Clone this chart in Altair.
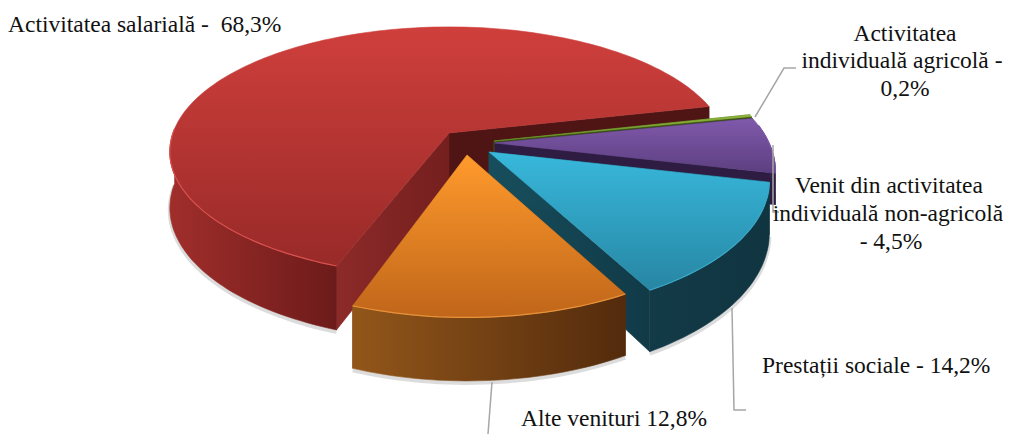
import math
import altair as alt
import pandas as pd

# Slice spans as drawn in the picture (degrees), clockwise from the teal slice
names = ["Prestatii", "Alte", "Salariala", "Agricola", "NonAgricola"]
starts = [13.0, 62.0, 110.5, -12.4, -11.5]
spans = [48.5, 47.5, 236.5, 0.9, 24.5]

apex = {"Salariala": (449, 133), "Alte": (467, 155), "Prestatii": (489, 152),
        "NonAgricola": (495, 143), "Agricola": (494, 141)}

top_colors = {"Salariala": ("#cf3f3c", "#982a28"), "Alte": ("#ff9a2c", "#c0661a"),
              "Prestatii": ("#38b8dc", "#2786a3"), "NonAgricola": ("#8059ab", "#5c3f80"),
              "Agricola": ("#8fb83c", "#6a8f28")}
wall_colors = {"Salariala": ("#a02e2b", "#6c1b1a"), "Alte": ("#92561a", "#532b0c"),
               "Prestatii": ("#133a47", "#103541"), "NonAgricola": ("#4a3268", "#2e1c42"),
               "Agricola": ("#55701e", "#3c5014")}
cut_colors = {"Salariala": ("#8c2a29", "#741f1e"), "Alte": ("#7a4513", "#5c310d"),
              "Prestatii": ("#174d5c", "#113a47"), "NonAgricola": ("#2e1c42", "#2e1c42"),
              "Agricola": ("#3c5014", "#3c5014")}
rim_colors = {"Salariala": "#d8514d", "Alte": "#e8923a", "Prestatii": "#3aa8c8",
              "NonAgricola": "#7a55a0", "Agricola": "#8fb83c"}
rear_cut = "#4f1514"

# projection: width, depth, perspective, wall height
params = {n: (274, 128, 0.212, 50) for n in names}
params["Salariala"] = (276, 122, 0.15, 55)
params["NonAgricola"] = (274, 128, 0.212, 30)


def proj(name, deg, z=0.0, r=1.0):
    A, B, K, D = params[name]
    ax, ay = apex[name]
    t = math.radians(deg)
    u, v = r * math.cos(t), r * math.sin(t)
    p = 1 / (1 - K * v)
    return ax + A * u * p, ay + B * v * p + D * z * p


def arc(name, a0, a1, z=0.0):
    n = max(2, int(abs(a1 - a0) / 1.5) + 2)
    return [proj(name, a0 + (a1 - a0) * i / (n - 1), z) for i in range(n)]


x_scale = alt.Scale(domain=[8, 1003], range=[0, 995], nice=False, zero=False)
y_scale = alt.Scale(domain=[434, 8], nice=False, zero=False)
X = alt.X("x:Q", scale=x_scale, axis=None)
Y = alt.Y("y:Q", scale=y_scale, axis=None)


def grad(c0, c1, vertical=True):
    return alt.Gradient(
        gradient="linear",
        stops=[alt.GradientStop(color=c0, offset=0), alt.GradientStop(color=c1, offset=1)],
        x1=0, y1=0, x2=0 if vertical else 1, y2=1 if vertical else 0)


def frame(points):
    return pd.DataFrame([{"x": round(p[0], 1), "y": round(p[1], 1), "i": i}
                         for i, p in enumerate(points)])


def face(points, fill, stroke=None, sw=0.6):
    return alt.Chart(frame(points + [points[0]])).mark_line(
        fill=fill, stroke=stroke or fill, strokeWidth=sw, strokeJoin="round"
    ).encode(x=X, y=Y, order=alt.Order("i:Q"))


def stroke_line(points, color, width, opacity=1.0):
    return alt.Chart(frame(points)).mark_line(
        color=color, strokeWidth=width, opacity=opacity
    ).encode(x=X, y=Y, order=alt.Order("i:Q"))


def slice_layers(name, a0, a1):
    ax, ay = apex[name]
    layers = []
    lo, hi = max(a0, -8), min(a1, 182)
    if name in ("Salariala", "Alte", "Prestatii"):
        shadow = [(x, y + 2) for x, y in arc(name, lo, hi, 1)]
        layers.append(stroke_line(shadow, "#8c8c8c", 4, 0.3))
    for ang in (a1, a0):
        pts = [(ax, ay), proj(name, ang), proj(name, ang, 1), proj(name, ang, 1, 0)]
        if name == "Salariala" and ang == a1:
            layers.append(face(pts, rear_cut))
        else:
            c = cut_colors[name]
            layers.append(face(pts, grad(c[0], c[1], False)))
    if hi > lo:
        c = wall_colors[name]
        layers.append(face(arc(name, lo, hi) + arc(name, hi, lo, 1), grad(c[0], c[1], False)))
    c = top_colors[name]
    layers.append(face([(ax, ay)] + arc(name, a0, a1), grad(c[0], c[1])))
    if hi > lo:
        layers.append(stroke_line(arc(name, lo, hi), rim_colors[name], 1.2))
    return layers


ext = {n: (s, s + w) for n, s, w in zip(names, starts, spans)}

layers = []
for n in ["Salariala", "Agricola", "NonAgricola", "Prestatii", "Alte"]:
    layers += slice_layers(n, *ext[n])

# leader lines
leaders = [
    [(755, 117), (784, 68), (796, 68)],
    [(773, 145), (773, 212), (779, 212)],
    [(732, 308), (734, 410), (746, 410)],
    [(492, 382), (488, 434)],
]
rows = []
for k, l in enumerate(leaders):
    rows += [{"x": p[0], "y": p[1], "i": i, "k": k} for i, p in enumerate(l)]
leader_layer = alt.Chart(pd.DataFrame(rows)).mark_line(color="#a6a6a6", strokeWidth=1.5).encode(
    x=X, y=Y, detail="k:N", order=alt.Order("i:Q"))

# labels
label_text = ["Activitatea salarială -\u00a0\u00a068,3%", "Activitatea", "individuală agricolă -", "0,2%",
              "Venit din activitatea", "individuală non-agricolă", "- 4,5%",
              "Prestații sociale - 14,2%", "Alte venituri 12,8%"]
label_x = [8, 905, 902, 905, 889, 888, 891, 762, 521]
label_y = [32, 41, 68, 96, 193, 221, 249, 373, 426]
label_align = ["left", "center", "center", "center", "center", "center", "center", "left", "left"]
labels = pd.DataFrame({"x": label_x, "y": label_y, "t": label_text, "a": label_align})
text_layers = [
    alt.Chart(labels[labels.a == al]).mark_text(
        font="Liberation Serif", fontSize=23.5, color="#111111", align=al, baseline="alphabetic"
    ).encode(x=X, y=Y, text="t:N")
    for al in ["left", "center"]
]

chart = alt.layer(*layers, leader_layer, *text_layers).properties(
    width=995, height=426, padding=0, background="white",
    autosize=alt.AutoSizeParams(type="none")
).configure_view(stroke=None)

chart.save("out.html", embed_options={"renderer": "svg", "actions": False})
